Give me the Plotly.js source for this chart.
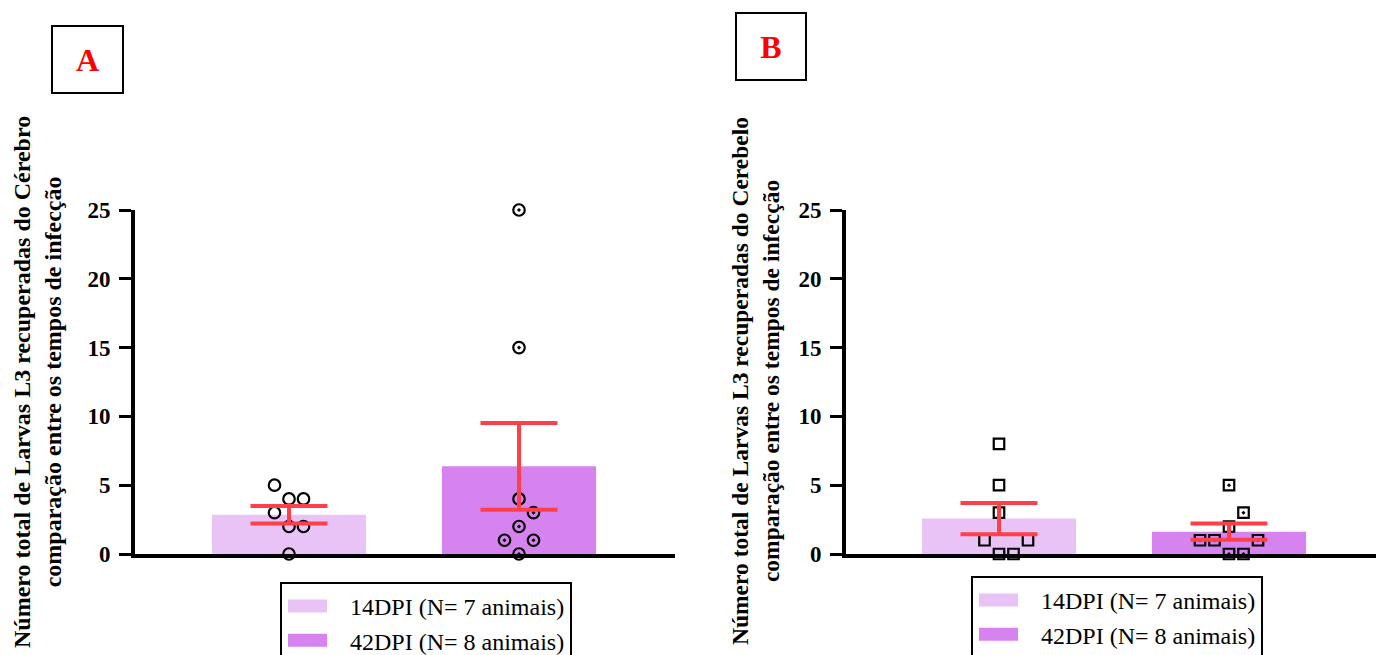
<!DOCTYPE html>
<html>
<head>
<meta charset="utf-8">
<script src="https://cdn.plot.ly/plotly-3.0.1.min.js"></script>
<style>
html,body{margin:0;padding:0;background:#fff;}
#chart{width:1376px;height:655px;}
</style>
</head>
<body>
<div id="chart"></div>
<script>
// ---------- data ----------
const groups = ["14DPI", "42DPI"];
const legendLabels = ["14DPI (N= 7 animais)", "42DPI (N= 8 animais)"];
const cerebro14 = [5, 4, 4, 3, 2, 2, 0];
const cerebro42 = [25, 15, 4, 3, 2, 1, 1, 0];
const cerebelo14 = [8, 5, 3, 1, 1, 0, 0];
const cerebelo42 = [5, 3, 2, 1, 1, 1, 0, 0];
const yTicks = [0, 5, 10, 15, 20, 25];
const titleA = "Número total de Larvas L3 recuperadas do Cérebro<br>comparação entre os tempos de infecção";
const titleB = "Número total de Larvas L3 recuperadas do Cerebelo<br>comparação entre os tempos de infecção";

// ---------- styles / layout constants ----------
const W = 1376, H = 655;
const FONT = "Liberation Serif, Times New Roman, serif";
const barColors = ["#E9C2F6", "#D683EF"];
const errColor = "#FF4048";
const yTop = 210, yBottom = 554;              // px
const pxPerCat = 230;
const axA = {left: 135, right: 675, center0: 289};
const axB = {left: 846, right: 1376, center0: 999};

function mean(a){ return a.reduce((s,v)=>s+v,0)/a.length; }
function sem(a){
  const m = mean(a);
  const v = a.reduce((s,x)=>s+(x-m)*(x-m),0)/(a.length-1);
  return Math.sqrt(v)/Math.sqrt(a.length);
}
const pxPerUnit = (yBottom - yTop) / 25;
// simple beeswarm: returns offsets in category units
function swarm(vals, stepPx){
  const order = vals.map((v,i)=>i).sort((a,b)=>vals[a]-vals[b]);
  const placed = [];
  const offs = new Array(vals.length);
  for (const i of order){
    const v = vals[i];
    for (let k=0;k<60;k++){
      const m = k===0 ? 0 : (k%2 ? (k+1)/2 : -k/2);
      const o = m*stepPx;
      const ok = placed.every(p => Math.hypot(p.o-o, (p.v-v)*pxPerUnit) >= stepPx-1e-6);
      if (ok){ offs[i]=o; placed.push({v:v,o:o}); break; }
    }
  }
  return offs.map(o => o/pxPerCat);
}

function panelTraces(vals14, vals42, xa, ya, legendName, symbols, msize){
  const sets = [vals14, vals42];
  const traces = [];
  sets.forEach((vals, gi) => {
    traces.push({
      type: "bar", x: [gi], y: [mean(vals)], width: 0.67,
      name: legendLabels[gi], xaxis: xa, yaxis: ya, legend: legendName,
      marker: {color: barColors[gi], line: {width: 0}},
      showlegend: true, hoverinfo: "skip"
    });
  });
  sets.forEach((vals, gi) => {
    const offs = swarm(vals, 14.5);
    traces.push({
      type: "scatter", mode: "markers",
      x: vals.map((v,i)=>gi+offs[i]), y: vals,
      xaxis: xa, yaxis: ya, showlegend: false, cliponaxis: false,
      marker: {symbol: symbols[gi], size: msize, color: "#000", line: {width: 2.2, color: "#000"}},
      hoverinfo: "skip"
    });
  });
  sets.forEach((vals, gi) => {
    traces.push({
      type: "scatter", mode: "markers",
      x: [gi], y: [mean(vals)], xaxis: xa, yaxis: ya, showlegend: false, cliponaxis: false,
      marker: {size: 1, opacity: 0},
      error_y: {type: "data", array: [sem(vals)], visible: true, color: errColor, thickness: 4, width: 38.5},
      hoverinfo: "skip"
    });
  });
  return traces;
}

const data = [].concat(
  panelTraces(cerebro14, cerebro42, "x", "y", "legend", ["circle-open", "circle-open-dot"], 11.5),
  panelTraces(cerebelo14, cerebelo42, "x2", "y2", "legend2", ["square-open", "square-open-dot"], 10.5)
);

const ydom = [(H - yBottom)/H, (H - yTop)/H];
function yAxis(anchor){
  return {
    domain: ydom, anchor: anchor, range: [0, 25], tickvals: yTicks,
    ticks: "outside", ticklen: 12, tickwidth: 3, tickcolor: "#000",
    showline: true, linewidth: 4, linecolor: "#000",
    showgrid: false, zeroline: false, ticklabelstandoff: 4,
    tickfont: {family: FONT, size: 23, weight: "bold", color: "#000"},
    fixedrange: true, automargin: false
  };
}
function xAxis(ax, anchor){
  return {
    domain: [ax.left/W, ax.right/W], anchor: anchor,
    range: [(ax.left-ax.center0)/pxPerCat, (ax.right-ax.center0)/pxPerCat],
    showline: true, linewidth: 4, linecolor: "#000",
    ticks: "", showticklabels: false, showgrid: false, zeroline: false,
    fixedrange: true, automargin: false
  };
}
const legendStyle = (x, y) => ({
  x: x/W, y: (H - y)/H, xanchor: "left", yanchor: "top",
  bgcolor: "#fff", bordercolor: "#000", borderwidth: 2,
  font: {family: FONT, size: 24, color: "#000"},
  itemwidth: 58, tracegroupgap: 0, traceorder: "normal"
});

const layout = {
  width: W, height: H, margin: {l: 0, r: 0, t: 0, b: 0, autoexpand: false},
  paper_bgcolor: "#fff", plot_bgcolor: "rgba(0,0,0,0)",
  barmode: "overlay", showlegend: true,
  xaxis: xAxis(axA, "y"), yaxis: yAxis("x"),
  xaxis2: xAxis(axB, "y2"), yaxis2: yAxis("x2"),
  legend: legendStyle(280, 582),
  legend2: legendStyle(971, 576),
  annotations: [
    {text: titleA, xref: "paper", yref: "paper", x: 37/W, y: (H-382)/H, xanchor: "center", yanchor: "middle",
     textangle: -90, showarrow: false, font: {family: FONT, size: 24, weight: "bold", color: "#000"}},
    {text: titleB, xref: "paper", yref: "paper", x: 756/W, y: (H-381)/H, xanchor: "center", yanchor: "middle",
     textangle: -90, showarrow: false, font: {family: FONT, size: 23.5, weight: "bold", color: "#000"}},
    {text: "A", xref: "paper", yref: "paper", x: 87.5/W, y: (H-59.5)/H, xanchor: "center", yanchor: "middle",
     showarrow: false, bordercolor: "#000", borderwidth: 2, borderpad: 0, width: 69, height: 65,
     bgcolor: "#fff", font: {family: FONT, size: 32, weight: "bold", color: "#FF0000"}},
    {text: "B", xref: "paper", yref: "paper", x: 771/W, y: (H-46.5)/H, xanchor: "center", yanchor: "middle",
     showarrow: false, bordercolor: "#000", borderwidth: 2, borderpad: 0, width: 68, height: 65,
     bgcolor: "#fff", font: {family: FONT, size: 32, weight: "bold", color: "#FF0000"}}
  ]
};

function widenSwatches(gd){
  gd.querySelectorAll(".legendpoints path").forEach(p => {
    p.setAttribute("d", "M11,6.5H-28V-6.5H11Z");
  });
}
Plotly.newPlot("chart", data, layout, {staticPlot: true, displayModeBar: false}).then(gd => {
  widenSwatches(gd);
  gd.on && gd.on("plotly_afterplot", () => widenSwatches(gd));
  setTimeout(() => widenSwatches(gd), 0);
});
</script>
</body>
</html>
